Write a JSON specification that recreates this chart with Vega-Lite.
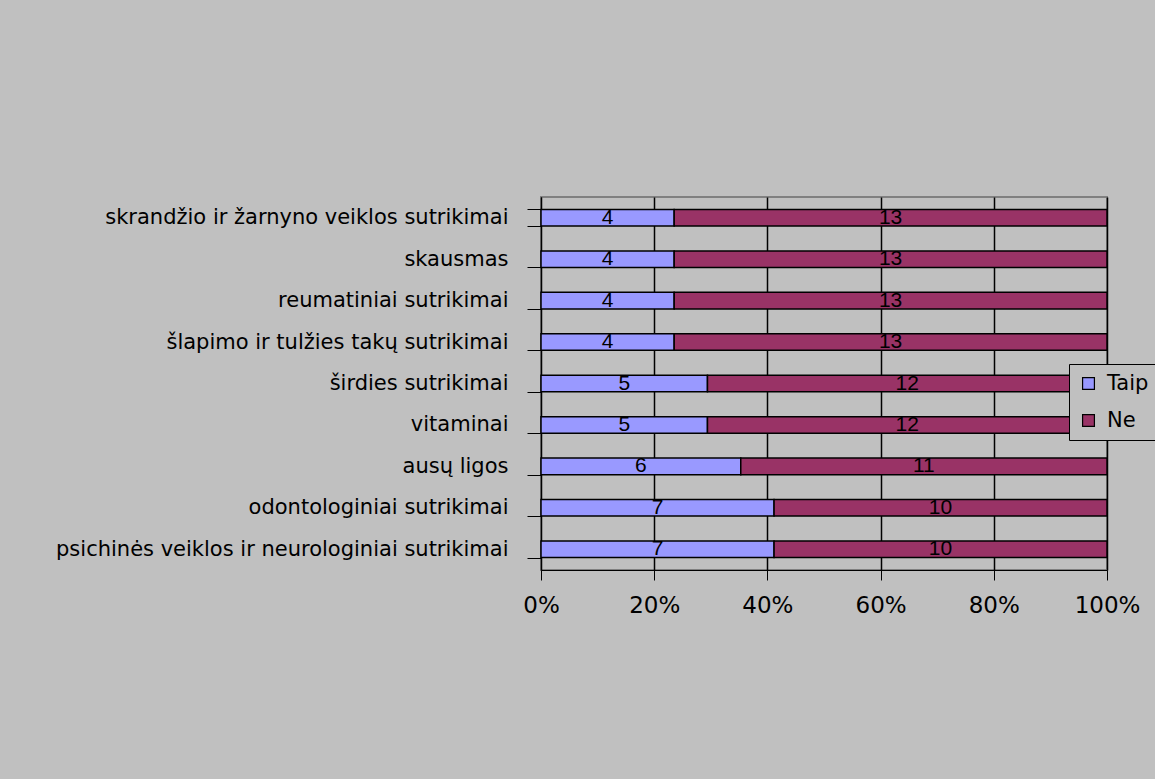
{
  "$schema": "https://vega.github.io/schema/vega-lite/v6.json",
  "autosize": {"type": "none"},
  "width": 566,
  "height": 373,
  "padding": {"left": 541, "top": 197, "right": 48, "bottom": 209},
  "background": "#c0c0c0",
  "data": {
    "values": [
      {"cat": "skrandžio ir žarnyno veiklos sutrikimai", "ans": "Taip", "o": 1, "n": 4},
      {"cat": "skrandžio ir žarnyno veiklos sutrikimai", "ans": "Ne", "o": 2, "n": 13},
      {"cat": "skausmas", "ans": "Taip", "o": 1, "n": 4},
      {"cat": "skausmas", "ans": "Ne", "o": 2, "n": 13},
      {"cat": "reumatiniai sutrikimai", "ans": "Taip", "o": 1, "n": 4},
      {"cat": "reumatiniai sutrikimai", "ans": "Ne", "o": 2, "n": 13},
      {"cat": "šlapimo ir tulžies takų sutrikimai", "ans": "Taip", "o": 1, "n": 4},
      {"cat": "šlapimo ir tulžies takų sutrikimai", "ans": "Ne", "o": 2, "n": 13},
      {"cat": "širdies sutrikimai", "ans": "Taip", "o": 1, "n": 5},
      {"cat": "širdies sutrikimai", "ans": "Ne", "o": 2, "n": 12},
      {"cat": "vitaminai", "ans": "Taip", "o": 1, "n": 5},
      {"cat": "vitaminai", "ans": "Ne", "o": 2, "n": 12},
      {"cat": "ausų ligos", "ans": "Taip", "o": 1, "n": 6},
      {"cat": "ausų ligos", "ans": "Ne", "o": 2, "n": 11},
      {"cat": "odontologiniai sutrikimai", "ans": "Taip", "o": 1, "n": 7},
      {"cat": "odontologiniai sutrikimai", "ans": "Ne", "o": 2, "n": 10},
      {"cat": "psichinės veiklos ir neurologiniai sutrikimai", "ans": "Taip", "o": 1, "n": 7},
      {"cat": "psichinės veiklos ir neurologiniai sutrikimai", "ans": "Ne", "o": 2, "n": 10}
    ]
  },
  "transform": [
    {"stack": "n", "groupby": ["cat"], "sort": [{"field": "o"}], "offset": "normalize", "as": ["x0", "x1"]},
    {"calculate": "(datum.x0 + datum.x1) / 2", "as": "xm"}
  ],
  "encoding": {
    "y": {
      "field": "cat",
      "type": "nominal",
      "sort": null,
      "scale": {"paddingInner": 0.6, "paddingOuter": 0.3},
      "axis": {
        "title": null,
        "tickBand": "extent",
        "domainColor": "black",
        "tickColor": "black",
        "tickSize": 14,
        "labelPadding": 19,
        "labelFont": "DejaVu Sans",
        "labelFontSize": 21,
        "labelColor": "black",
        "labelLimit": 600
      }
    }
  },
  "layer": [
    {
      "mark": {"type": "bar", "stroke": "black", "strokeWidth": 1.5},
      "encoding": {
        "x": {
          "field": "x0",
          "type": "quantitative",
          "scale": {"domain": [0, 1]},
          "axis": {
            "title": null,
            "format": ".0%",
            "values": [0, 0.2, 0.4, 0.6, 0.8, 1],
            "grid": true,
            "gridColor": "black",
            "gridOpacity": 1,
            "domainColor": "black",
            "tickColor": "black",
            "tickSize": 10,
            "labelPadding": 14,
            "labelFlush": false,
            "labelFont": "DejaVu Sans",
            "labelFontSize": 23,
            "labelColor": "black"
          }
        },
        "x2": {"field": "x1"},
        "color": {
          "field": "ans",
          "type": "nominal",
          "sort": ["Taip", "Ne"],
          "scale": {"domain": ["Taip", "Ne"], "range": ["#9999ff", "#993366"]},
          "legend": {
            "title": null,
            "orient": "none",
            "legendX": 528,
            "legendY": 167,
            "symbolType": "square",
            "symbolSize": 140,
            "symbolStrokeColor": "black",
            "symbolStrokeWidth": 1.2,
            "labelFont": "DejaVu Sans",
            "labelFontSize": 21,
            "labelColor": "black",
            "labelOffset": 8,
            "rowPadding": 15,
            "padding": 9,
            "strokeColor": "black",
            "fillColor": "#c0c0c0"
          }
        }
      }
    },
    {
      "mark": {"type": "text", "font": "Liberation Sans", "fontSize": 21, "color": "black", "baseline": "middle"},
      "encoding": {
        "x": {"field": "xm", "type": "quantitative"},
        "text": {"field": "n", "type": "quantitative"}
      }
    }
  ],
  "config": {
    "view": {"stroke": "#808080", "strokeWidth": 2},
    "axis": {"gridWidth": 1.5}
  }
}
